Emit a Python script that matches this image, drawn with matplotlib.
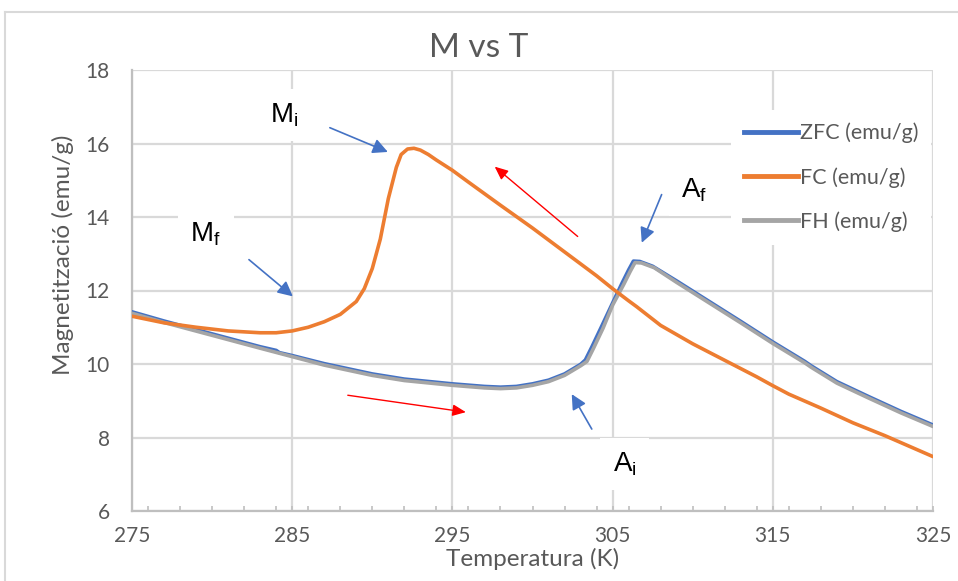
import matplotlib
matplotlib.use("Agg")
import matplotlib.pyplot as plt
from matplotlib.lines import Line2D
from matplotlib.ticker import MultipleLocator

plt.rcParams['font.family'] = ['Lato', 'DejaVu Sans']
plt.rcParams['mathtext.fontset'] = 'custom'
plt.rcParams['mathtext.rm'] = 'Liberation Sans'
plt.rcParams['mathtext.it'] = 'Liberation Sans'

# ---- data ----
T_zfc = [275, 277, 280, 283, 284, 284.2, 285, 287, 290, 292, 295, 297, 298, 299, 300, 301,
         302, 303, 303.3, 303.7, 304.3, 305, 305.6, 306, 306.3, 306.7, 307.5, 309, 311, 313,
         315, 317, 317.4, 319, 321, 323, 325]
M_zfc = [11.42, 11.17, 10.82, 10.47, 10.37, 10.31, 10.23, 10.01, 9.73, 9.59, 9.46, 9.39, 9.37,
         9.39, 9.46, 9.56, 9.73, 9.99, 10.11, 10.46, 11.01, 11.66, 12.21, 12.56, 12.80, 12.79,
         12.66, 12.26, 11.71, 11.16, 10.60, 10.07, 9.95, 9.52, 9.11, 8.71, 8.34]

T_fc = [275, 277, 279, 281, 283, 284, 285, 286, 287, 288, 289, 289.5, 290, 290.5, 291, 291.5,
        291.8, 292.2, 292.6, 293, 293.5, 294, 295, 296, 298, 300, 302, 304, 305, 306, 306.5,
        308, 310, 312, 314, 315, 316, 318, 320, 322, 325]
M_fc = [11.3, 11.12, 11.0, 10.9, 10.85, 10.85, 10.9, 11.0, 11.15, 11.35, 11.7, 12.05, 12.6,
        13.4, 14.5, 15.35, 15.7, 15.85, 15.87, 15.82, 15.7, 15.55, 15.27, 14.95, 14.32, 13.7,
        13.05, 12.4, 12.05, 11.72, 11.56, 11.05, 10.55, 10.1, 9.65, 9.41, 9.18, 8.8, 8.4,
        8.05, 7.48]

T_fh = [275, 277, 280, 283, 285, 287, 290, 292, 295, 297, 298, 299, 300, 301, 302, 303,
        303.4, 303.8, 304.4, 305, 305.7, 306.1, 306.4, 306.8, 307.6, 309, 311, 313, 315, 317,
        317.4, 319, 321, 323, 325]
M_fh = [11.38, 11.13, 10.78, 10.43, 10.2, 9.97, 9.69, 9.55, 9.42, 9.35, 9.33, 9.35, 9.42, 9.52,
        9.69, 9.95, 10.07, 10.42, 10.97, 11.6, 12.17, 12.52, 12.76, 12.75, 12.62, 12.22, 11.67,
        11.12, 10.56, 10.03, 9.91, 9.48, 9.07, 8.67, 8.30]

series_names = ['ZFC (emu/g)', 'FC (emu/g)', 'FH (emu/g)']
series_colors = ['#4472C4', '#ED7D31', '#A5A5A5']

x_ticks = [275, 285, 295, 305, 315, 325]
y_ticks = [6, 8, 10, 12, 14, 16, 18]

# annotations: (label, text_xy, arrow_tail, arrow_head)
labels = [(r'M$_{\mathrm{i}}$', (284.5, 16.78), (287.35, 16.43), (290.97, 15.77)),
          (r'M$_{\mathrm{f}}$', (279.6, 13.52), (282.30, 12.84), (285.04, 11.84)),
          (r'A$_{\mathrm{i}}$', (305.75, 7.28), (303.70, 8.23), (302.45, 9.18)),
          (r'A$_{\mathrm{f}}$', (310.1, 14.74), (308.06, 14.61), (306.82, 13.30))]
red_arrows = [((302.82, 13.47), (297.64, 15.37)),
              ((288.47, 9.15), (295.84, 8.69))]

# ---- figure ----
fig = plt.figure(figsize=(9.58, 5.81), dpi=100)
fig.patch.set_facecolor('white')
ax = fig.add_axes([132/958, (581-511)/581, (933-132)/958, (511-70)/581])

grey_txt = '#595959'
ax.set_xlim(275, 325)
ax.set_ylim(6, 18)
ax.set_xticks(x_ticks)
ax.set_yticks(y_ticks)
ax.xaxis.set_minor_locator(MultipleLocator(2))
ax.grid(True, which='major', color='#D9D9D9', lw=1.6, zorder=0)
ax.set_axisbelow(True)
for s in ['top', 'right']:
    ax.spines[s].set_visible(False)
for s in ['left', 'bottom']:
    ax.spines[s].set_color('#BFBFBF')
    ax.spines[s].set_linewidth(1.6)
ax.tick_params(axis='x', which='both', direction='in', length=3.5, width=1.2,
               color='#BFBFBF', labelsize=15, labelcolor=grey_txt, pad=11)
ax.tick_params(axis='y', length=0, labelsize=15, labelcolor=grey_txt, pad=16)

ax.plot(T_zfc, M_zfc, color=series_colors[0], lw=2.6, zorder=3, solid_capstyle='round')
ax.plot(T_fc, M_fc, color=series_colors[1], lw=2.6, zorder=4, solid_capstyle='round')
ax.plot(T_fh, M_fh, color=series_colors[2], lw=2.6, zorder=3.5, solid_capstyle='round')

fig.text(0.5, 1 - 57/581, 'M vs T', fontsize=24, color=grey_txt, ha='center', va='baseline')
ax.set_xlabel('Temperatura (K)', fontsize=17.5, color=grey_txt, labelpad=1)
ax.set_ylabel('Magnetització (emu/g)', fontsize=17.5, color=grey_txt)
ax.yaxis.set_label_coords(-0.072, 0.58)

for txt, pos, tail, head in labels:
    ax.text(pos[0], pos[1], txt, fontsize=20, family='Liberation Sans', color='black',
            ha='center', va='center', zorder=5,
            bbox=dict(facecolor='white', edgecolor='none', pad=9))
    ax.annotate('', xy=head, xytext=tail, zorder=6,
                arrowprops=dict(arrowstyle='-|>,head_length=0.9,head_width=0.45',
                                color='#4472C4', lw=1.2, shrinkA=0, shrinkB=0))
for tail, head in red_arrows:
    ax.annotate('', xy=head, xytext=tail, zorder=6,
                arrowprops=dict(arrowstyle='-|>,head_length=0.8,head_width=0.35',
                                color='#FF0000', lw=1.0, shrinkA=0, shrinkB=0))

handles = [Line2D([], [], color=c, lw=3.5) for c in series_colors]
leg = fig.legend(handles, series_names, loc='upper left', bbox_to_anchor=(720/958, 1-99/581),
                 frameon=True, fontsize=15.5, labelcolor=grey_txt, handlelength=2.5,
                 handletextpad=0.1, labelspacing=1.1, borderpad=0.6)
leg.get_frame().set_facecolor('white')
leg.get_frame().set_edgecolor('none')
leg.get_frame().set_alpha(1)

# chart area border
fig.add_artist(Line2D([5/958, 1], [1-12/581, 1-12/581], color='#D9D9D9', lw=1.5,
                      transform=fig.transFigure))
fig.add_artist(Line2D([5/958, 5/958], [0, 1-12/581], color='#D9D9D9', lw=1.5,
                      transform=fig.transFigure))

fig.savefig('out.png', dpi=100)
